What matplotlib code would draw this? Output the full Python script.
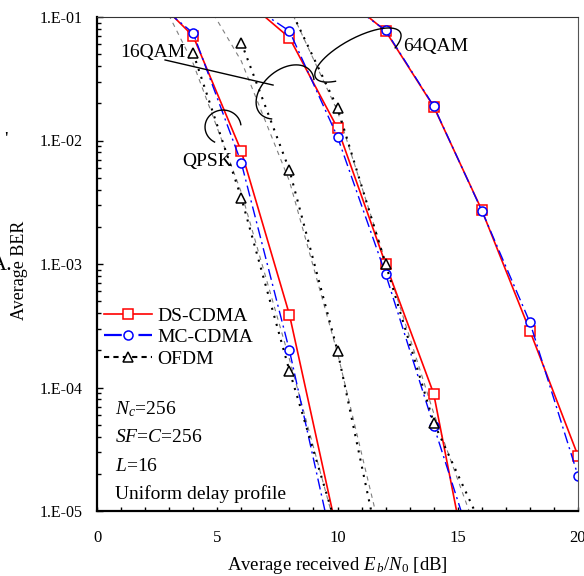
import matplotlib.pyplot as plt
import numpy as np
from matplotlib.lines import Line2D
from matplotlib.ticker import MultipleLocator, NullFormatter

plt.rcParams['font.family'] = 'Liberation Serif'
plt.rcParams['mathtext.fontset'] = 'custom'
plt.rcParams['mathtext.rm'] = 'Liberation Serif'
plt.rcParams['mathtext.it'] = 'Liberation Serif:italic'

# BER vs Eb/N0 [dB]
# DS-CDMA
ds_qpsk_x = [2, 4, 6, 8, 10]
ds_qpsk = [1.7e-1, 7.0e-2, 8.2e-3, 3.9e-4, 6.5e-6]
ds_16qam_x = [6, 8, 10, 12, 14, 16]
ds_16qam = [1.46e-1, 6.8e-2, 1.26e-2, 1.0e-3, 8.9e-5, 9.0e-7]
ds_64qam_x = [10, 12, 14, 16, 18, 20]
ds_64qam = [1.6e-1, 7.7e-2, 1.88e-2, 2.73e-3, 2.88e-4, 2.8e-5]

# MC-CDMA
mc_qpsk_x = [2, 4, 6, 8, 10]
mc_qpsk = [1.56e-1, 7.4e-2, 6.6e-3, 2.0e-4, 3.5e-6]
mc_16qam_x = [6, 8, 10, 12, 14, 16]
mc_16qam = [1.4e-1, 7.7e-2, 1.07e-2, 8.3e-4, 4.9e-5, 3.0e-6]
mc_64qam_x = [10, 12, 14, 16, 18, 20]
mc_64qam = [1.5e-1, 7.8e-2, 1.9e-2, 2.7e-3, 3.37e-4, 1.93e-5]

# OFDM
of_qpsk_x = [4, 6, 8, 10]
of_qpsk = [5.1e-2, 3.44e-3, 1.37e-4, 7.0e-6]
of_16qam_x = [6, 8, 10, 12]
of_16qam = [6.2e-2, 5.77e-3, 1.98e-4, 2.8e-6]
of_64qam_x = [8, 10, 12, 14, 16]
of_64qam = [1.2e-1, 1.84e-2, 1.0e-3, 5.2e-5, 7.5e-6]

# thin grey reference curves
ref_qpsk_x = [2, 4, 6, 8, 10]
ref_qpsk = [2.5e-1, 4.2e-2, 3.8e-3, 1.7e-4, 6.4e-6]
ref_16qam_x = [4, 6, 8, 10, 12]
ref_16qam = [2.0e-1, 4.4e-2, 4.7e-3, 1.9e-4, 4.5e-6]
ref_64qam_x = [8, 10, 12, 14, 16]
ref_64qam = [1.2e-1, 1.73e-2, 1.05e-3, 6.2e-5, 5.2e-6]

yticks = [1e-5, 1e-4, 1e-3, 1e-2, 1e-1]
ytick_labels = ['1.E-05', '1.E-04', '1.E-03', '1.E-02', '1.E-01']
xticks = [0, 5, 10, 15, 20]

fig = plt.figure(figsize=(5.84, 5.76), dpi=100)
ax = fig.add_axes([97/584, 65/576, 481/584, 494/576])
ax.set_yscale('log')
ax.set_xlim(0, 20)
ax.set_ylim(1e-5, 1e-1)

ref_style = dict(color='#808080', lw=0.8, ls=(0, (4, 4)))
for x, y in [(ref_qpsk_x, ref_qpsk), (ref_16qam_x, ref_16qam), (ref_64qam_x, ref_64qam)]:
    ax.plot(x, y, **ref_style)

ds_style = dict(color='red', lw=1.2, marker='s', ms=6.5, mfc='white', mec='red', mew=1.1)
mc_style = dict(color='blue', lw=1.0, ls=(0, (8, 3, 1.5, 3)), marker='o', ms=6.5, mfc='white', mec='blue', mew=1.1)
of_style = dict(color='black', lw=1.5, ls=(0, (1, 3)), marker='^', ms=6.5, mfc='white', mec='black', mew=1.1)

for x, y in [(ds_qpsk_x, ds_qpsk), (ds_16qam_x, ds_16qam), (ds_64qam_x, ds_64qam)]:
    ax.plot(x, y, **ds_style)
for x, y in [(mc_qpsk_x, mc_qpsk), (mc_16qam_x, mc_16qam), (mc_64qam_x, mc_64qam)]:
    ax.plot(x, y, **mc_style)
for x, y in [(of_qpsk_x, of_qpsk), (of_16qam_x, of_16qam), (of_64qam_x, of_64qam)]:
    ax.plot(x, y, **of_style)

# axes styling
ax.set_yticks(yticks)
ax.set_yticklabels(ytick_labels)
ax.yaxis.set_minor_formatter(NullFormatter())
ax.set_xticks(xticks)
ax.set_xticklabels([str(v) for v in xticks])
ax.xaxis.set_minor_locator(MultipleLocator(1))
ax.tick_params(axis='y', which='major', direction='in', length=4.5, width=1, pad=10.5, labelsize=11.5)
ax.tick_params(axis='y', which='minor', direction='in', length=3, width=1)
ax.tick_params(axis='x', which='both', direction='in', length=3, width=1, pad=14, labelsize=12)
for side in ['left', 'bottom']:
    ax.spines[side].set_linewidth(1.6)
ax.spines['top'].set_linewidth(0.8)
ax.spines['top'].set_color('#333333')
ax.spines['right'].set_linewidth(0.8)
ax.spines['right'].set_color('#555555')

ax.set_xlabel(r'Average received $E_{\,b}/N_{\mathrm{0}}$ [dB]', fontsize=13.5, labelpad=6)
ax.set_ylabel('Average BER', fontsize=13)
ax.yaxis.set_label_coords(-0.1435, 0.488)

# legend
handles = [
    Line2D([], [], **ds_style),
    Line2D([], [], **{**mc_style, 'lw': 1.6}),
    Line2D([], [], **{**of_style, 'ls': (0, (2.5, 2))}),
]
ax.legend(handles, ['DS-CDMA', 'MC-CDMA', 'OFDM'], loc='upper left', bbox_to_anchor=(0.0146, 0.413),
          frameon=False, fontsize=14, handlelength=2.45, handletextpad=0.3, labelspacing=0.2,
          borderpad=0, borderaxespad=0)

# parameters
params = [r'$N_c$=256', r'$SF$=$C$=256', r'$L$=16', 'Uniform delay profile']
for i, s in enumerate(params):
    ax.text(0.0374, 0.1964 - i * 0.0574, s, transform=ax.transAxes, fontsize=14, va='baseline', ha='left')


# hand-drawn style group markers
def draw_arc(xc, yc, a, b, tilt, t1, t2):
    cx, cy = ax.transData.transform((xc, yc))
    t = np.radians(np.linspace(t1, t2, 150))
    r = np.radians(tilt)
    px = cx + a * np.cos(t) * np.cos(r) - b * np.sin(t) * np.sin(r)
    py = cy + a * np.cos(t) * np.sin(r) + b * np.sin(t) * np.cos(r)
    xd, yd = ax.transData.inverted().transform(np.column_stack([px, py])).T
    ax.plot(xd, yd, color='black', lw=1.0, clip_on=False)


draw_arc(5.24, 10 ** -1.891, 18, 17, 0, 8, 242)
draw_arc(7.82, 10 ** -1.607, 33, 22, 40, -24, 213)
draw_arc(10.85, 10 ** -1.308, 48, 17, 28, -41, 228)
ax.plot([2.83, 7.32], [10 ** -1.348, 10 ** -1.551], color='black', lw=1.0)

ax.text(0.96, 10 ** -1.324, '16QAM', fontsize=14, ha='left', va='baseline')
ax.text(3.53, 10 ** -2.206, 'QPSK', fontsize=14, ha='left', va='baseline')
ax.text(12.72, 10 ** -1.275, '64QAM', fontsize=14, ha='left', va='baseline')

# fragments at the left edge
fig.text(-0.016, 1 - 266 / 576, 'A.', fontsize=16, va='center', ha='left')
fig.text(4 / 584, 1 - 140 / 576, "'", fontsize=14, va='center', ha='left')

fig.savefig('out.png', dpi=100)
